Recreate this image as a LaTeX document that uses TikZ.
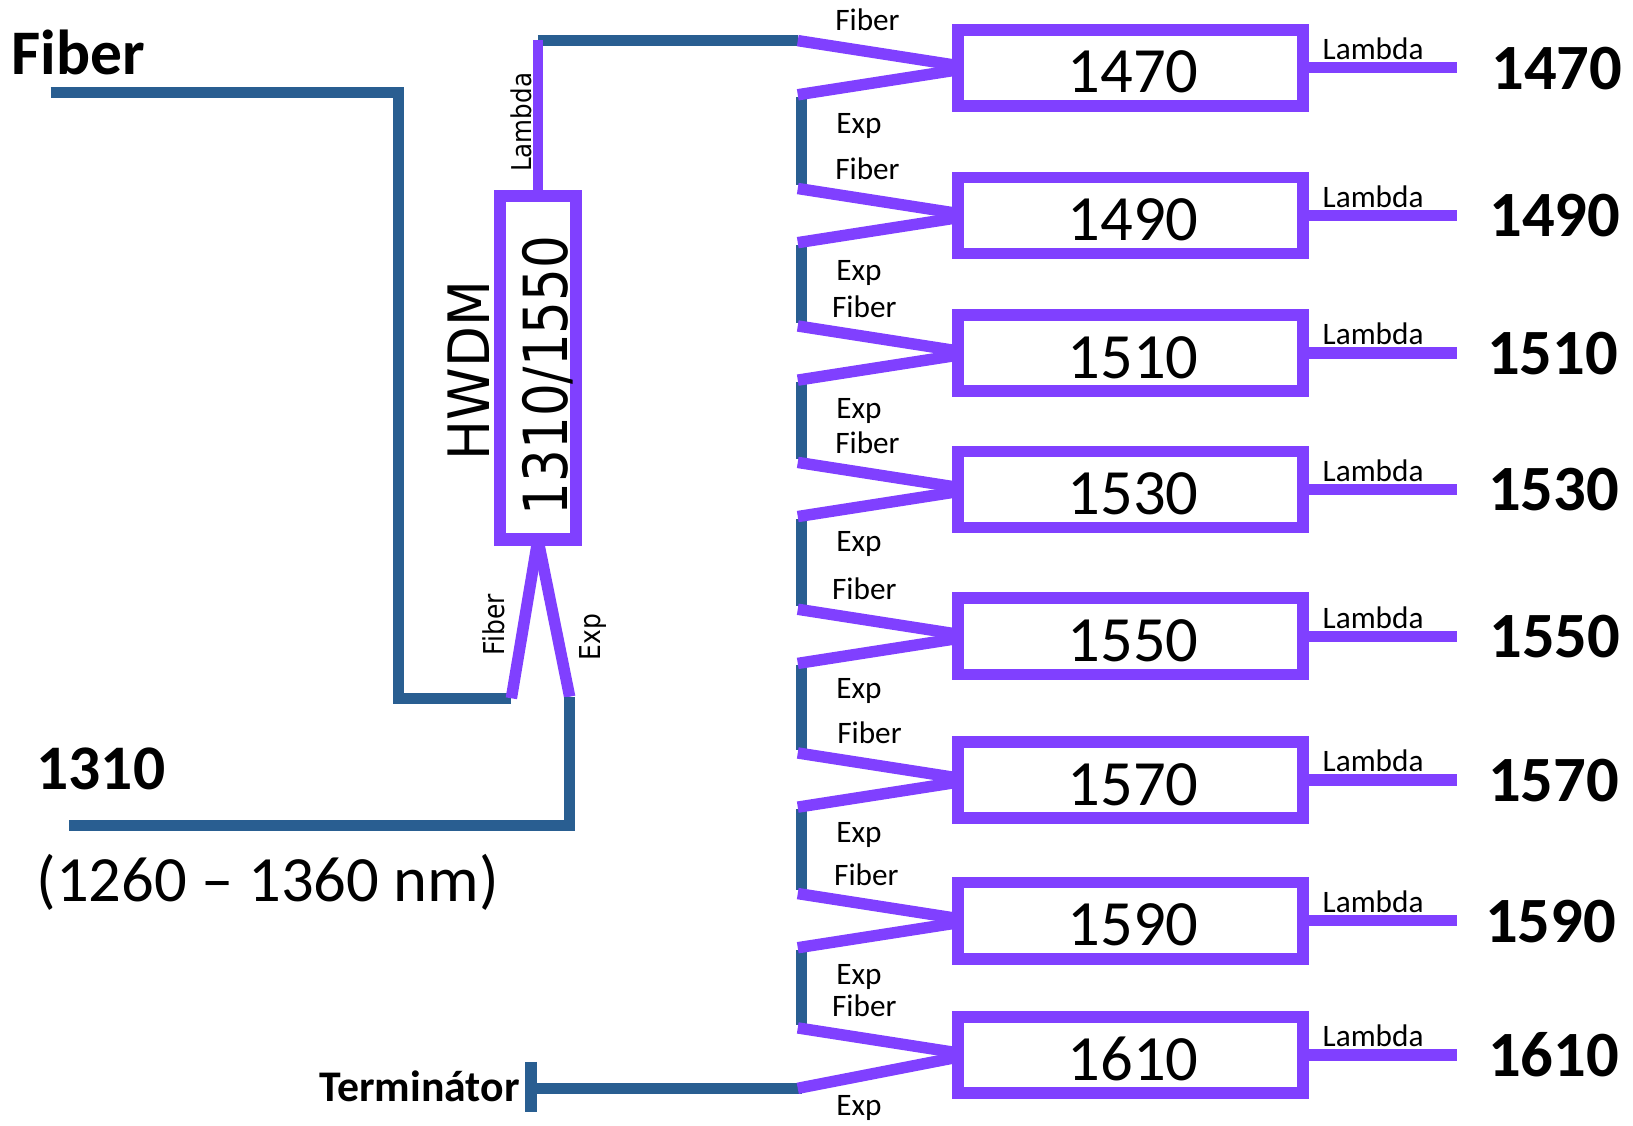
\documentclass[tikz,border=0pt]{standalone}
\usepackage{fontspec}
\setmainfont{Carlito}
\newfontfamily\dv{DejaVu Sans}
\usepackage{graphicx}
\usetikzlibrary{calc}
\definecolor{pur}{RGB}{128,64,255}
\definecolor{blu}{RGB}{41,94,145}
\newcommand{\fsz}[1]{\fontsize{#1}{#1}\selectfont}
\tikzset{
  pline/.style={draw=pur, line width=11pt},
  bline/.style={draw=blu, line width=10.5pt},
  fbox/.style={draw=pur, line width=11.2pt, minimum width=331pt, minimum height=73pt, inner sep=0pt, outer sep=0pt},
  hbox/.style={draw=pur, line width=11.8pt, minimum width=73pt, minimum height=330pt, inner sep=0pt, outer sep=0pt},
  txt/.style={inner sep=0pt, outer sep=0pt},
  smalllbl/.style={txt, font=\fsz{30}, anchor=base west},
  rlab/.style={txt, font=\dv\fsz{24}, rotate=90, anchor=base},
  boxnum/.style={txt, font=\fsz{62}, anchor=base},
  outnum/.style={txt, font=\bfseries\fsz{62}, anchor=base west},
}
\begin{document}
\begin{tikzpicture}[x=1pt,y=-1pt]
\useasboundingbox (0,0) rectangle (1568,1081);

% ---------- left part ----------
\node[hbox] (hw) at (516.5,353) {};
\node[rlab, font=\dv\fsz{49.5}] (hwnum) at (545,360.5) {\scalebox{1}[1.18]{1310/1550}};
\node[rlab, font=\dv\fsz{51}] (hwdm) at (470,356) {\scalebox{1}[1.075]{HWDM}};

\node[txt, font=\bfseries\fsz{61}, anchor=base west] (fibertxt) at (11,72) {Fiber};
\node[txt, font=\bfseries\fsz{61}, anchor=base west] (t1310) at (35,758) {1310};
\node[txt, font=\fsz{62}, anchor=base west] (range) at (35,866) {(1260 – 1360 nm)};
\node[txt, font=\bfseries\fsz{42}, anchor=base east] (term) at (499,1058) {Terminátor};

% fiber input
\coordinate (fibstart) at (48.5,88.7);
\coordinate (fc1) at (383,88.7);
\coordinate (fc2) at (383,670.5);
\coordinate (fibend) at (491,670.5);
\draw[bline] (fibstart) -- (fc1) -- (fc2) -- (fibend);
\draw[pline] (fibend) -- (hw.south);

% exp output -> 1310
\coordinate (expend) at (547,669);
\coordinate (ec1) at (547,793);
\coordinate (in1310) at (66,793);
\draw[pline] (hw.south) -- (expend);
\draw[bline] (expend) -- (ec1) -- (in1310);

% lambda output -> cascade
\coordinate (lamtop) at (516.5,38.8);
\coordinate (toplam) at (766,38.8);
\draw[bline] (lamtop) -- (toplam);
\draw[pline, line width=10pt] (hw.north) -- (lamtop);

\node[rlab, font=\dv\fsz{23.6}] (lamlbl) at (510,117.5) {\scalebox{1}[1.11]{Lambda}};
\node[rlab] (fiblbl) at (484.5,600) {\scalebox{1}[1.15]{Fiber}};
\node[rlab] (explbl) at (576.5,611.5) {\scalebox{1}[1.15]{Exp}};

% terminator
\coordinate (bartop) at (510,1019.5);
\coordinate (barbot) at (510,1067.5);
\coordinate (barmid) at (510,1045);
\coordinate (termend) at (770,1045);
\draw[bline, line width=11.5pt] (bartop) -- (barbot);
\draw[bline] (barmid) -- (termend);

% ---------- blue links between filters ----------
\foreach \k/\a/\b in {1/65/207, 2/207/339, 3/339/470, 4/470/611, 5/611/749, 6/749/884, 7/884/1013} {
  \coordinate (ba\k) at (770,\a+28);
  \coordinate (bb\k) at (770,\b-29);
  \draw[bline] (ba\k) -- (bb\k);
}

% ---------- filter column ----------
\foreach \i/\c/\num/\fx/\fo/\eo/\lo/\nx in {
  1/65/1470/804/-45/56/26/1436,
  2/207/1490/804/-44/55/26/1434,
  3/339/1510/801/-43/56/26/1432,
  4/470/1530/804/-44/53/26/1433,
  5/611/1550/801/-44/53/26/1434,
  6/749/1570/806/-44/53/26/1433,
  7/884/1590/803/-43/54/26/1430,
  8/1013/1610/801/-46/51/32/1433} {
  \node[fbox] (b\i) at (1085.5,\c) {};
  \node[boxnum] (n\i) at (1088,\c+24) {\num};
  \coordinate (fu\i) at (766,\c-26);
  \coordinate (eu\i) at (766,\c+\lo);
  \draw[pline] (fu\i) -- ($(b\i.west)+(0,-2)$);
  \draw[pline] ($(b\i.west)+(0,2)$) -- (eu\i);
  \coordinate (lo\i) at (1399,\c);
  \draw[pline] (b\i.east) -- (lo\i);
  \node[smalllbl] (lf\i) at (\fx-2,\c+\fo+9) {Fiber};
  \node[smalllbl] (le\i) at (803,\c+\eo+7) {Exp};
  \node[smalllbl] (ll\i) at (1270,\c-8) {Lambda};
  \node[outnum] (o\i) at (\nx-4,\c+20.5) {\num};
}
\end{tikzpicture}
\end{document}
